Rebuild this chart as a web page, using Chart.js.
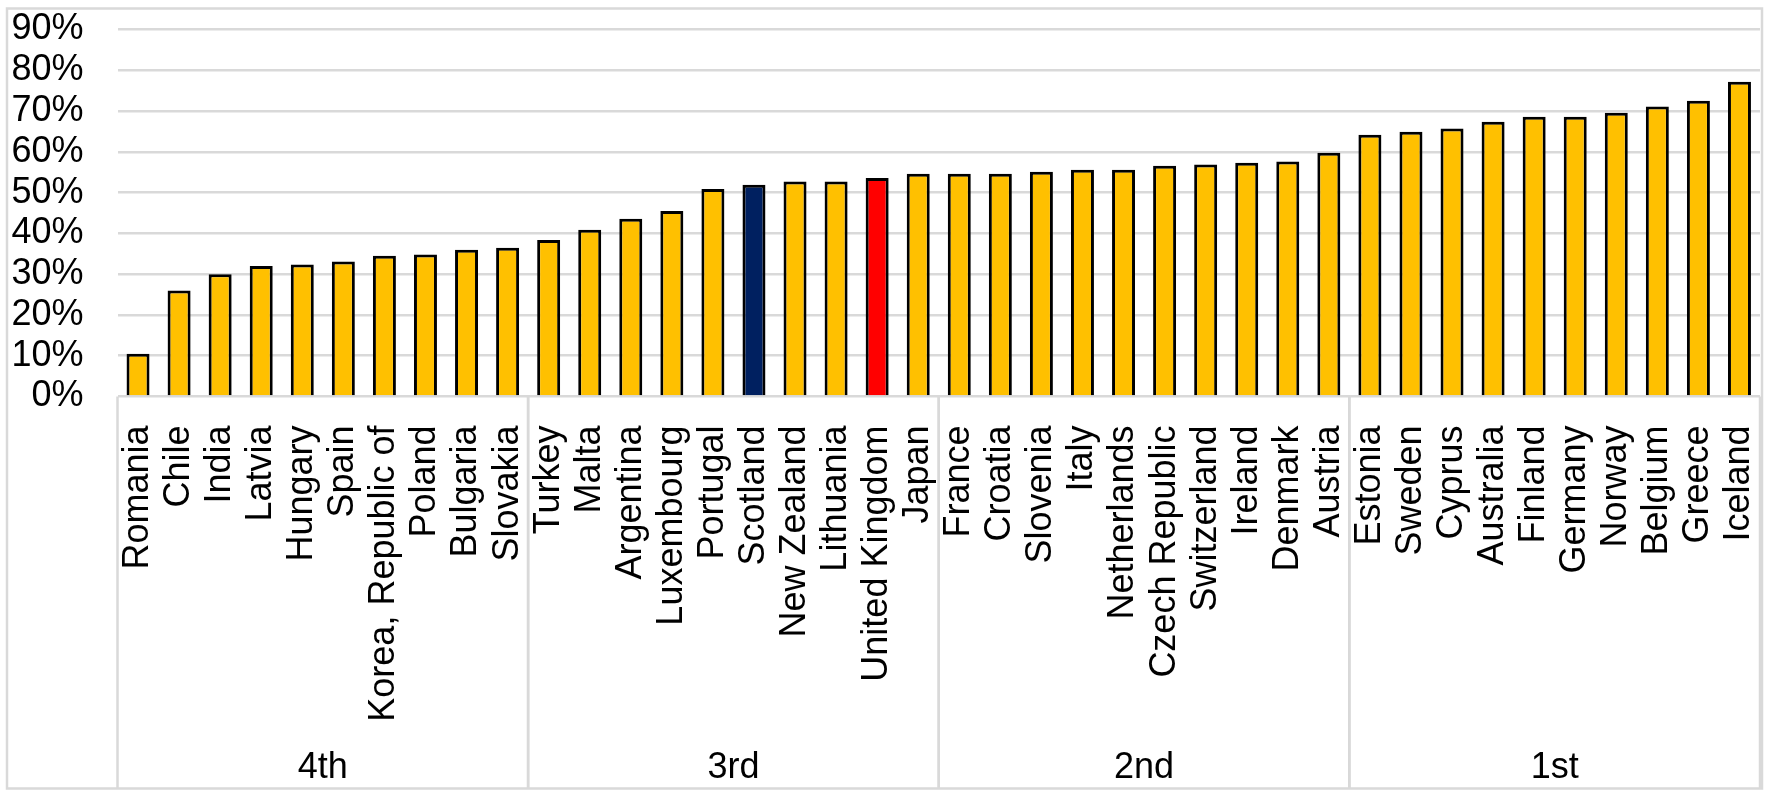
<!DOCTYPE html>
<html>
<head>
<meta charset="utf-8">
<script src="https://cdn.jsdelivr.net/npm/chart.js@4.4.1/dist/chart.umd.min.js"></script>
<style>
  html, body { margin: 0; padding: 0; background: #fff; }
  #wrap { width: 1772px; height: 798px; }
</style>
</head>
<body>
<div id="wrap"><canvas id="chart" width="1772" height="798"></canvas></div>
<script>
// Countries, sorted low to high, in four quartile groups
const countries = [
  'Romania', 'Chile', 'India', 'Latvia', 'Hungary', 'Spain', 'Korea, Republic of', 'Poland', 'Bulgaria', 'Slovakia',
  'Turkey', 'Malta', 'Argentina', 'Luxembourg', 'Portugal', 'Scotland', 'New Zealand', 'Lithuania', 'United Kingdom', 'Japan',
  'France', 'Croatia', 'Slovenia', 'Italy', 'Netherlands', 'Czech Republic', 'Switzerland', 'Ireland', 'Denmark', 'Austria',
  'Estonia', 'Sweden', 'Cyprus', 'Australia', 'Finland', 'Germany', 'Norway', 'Belgium', 'Greece', 'Iceland'
];
// Values in percent
const shares = [
  10.5, 26.0, 30.0, 32.0, 32.4, 33.1, 34.5, 34.8, 36.0, 36.5,
  38.4, 40.9, 43.6, 45.5, 50.9, 51.9, 52.7, 52.7, 53.6, 54.6,
  54.6, 54.6, 55.1, 55.6, 55.6, 56.6, 56.9, 57.3, 57.6, 59.8,
  64.2, 64.9, 65.7, 67.4, 68.6, 68.6, 69.6, 71.1, 72.5, 77.2
];
const groupNames = ['4th', '3rd', '2nd', '1st'];
const groupSizes = [10, 10, 10, 10];
const yMax = 90;
const yStep = 10;

const highlight = { 'Scotland': '#002060', 'United Kingdom': '#FF0000' };
const BAR = '#FFC000';
const GRID = '#D9D9D9';
const FONT = "'Liberation Sans', Arial, sans-serif";

// outer frame + quartile boxes under the x axis
const groupBoxes = {
  id: 'groupBoxes',
  afterDraw(chart) {
    const { ctx, chartArea } = chart;
    const x = chart.scales.x;
    const half = (x.getPixelForValue(1) - x.getPixelForValue(0)) / 2;
    const top = chartArea.bottom;
    const bottom = 788.5;
    ctx.save();
    ctx.strokeStyle = GRID;
    ctx.lineWidth = 2.5;
    ctx.strokeRect(7, 8.5, 1755, 780);
    ctx.fillStyle = '#000';
    ctx.font = '36px ' + FONT;
    ctx.textAlign = 'center';
    ctx.textBaseline = 'middle';
    let start = 0;
    groupSizes.forEach((n, g) => {
      const left = x.getPixelForValue(start) - half;
      const right = x.getPixelForValue(start + n - 1) + half;
      ctx.beginPath();
      ctx.moveTo(left, top);
      ctx.lineTo(left, bottom);
      ctx.moveTo(right, top);
      ctx.lineTo(right, bottom);
      ctx.stroke();
      ctx.fillText(groupNames[g], (left + right) / 2, 768);
      start += n;
    });
    ctx.restore();
  }
};

new Chart(document.getElementById('chart'), {
  type: 'bar',
  data: {
    labels: countries,
    datasets: [{
      data: shares,
      backgroundColor: countries.map(c => highlight[c] || BAR),
      borderColor: '#000',
      borderWidth: 3,
      barPercentage: 0.56,
      categoryPercentage: 1.0
    }]
  },
  options: {
    responsive: false,
    animation: false,
    layout: { padding: { top: 29.5, right: 12, bottom: 0, left: 0 } },
    plugins: { legend: { display: false }, tooltip: { enabled: false } },
    scales: {
      x: {
        grid: { display: false },
        border: { display: false },
        ticks: {
          autoSkip: false,
          minRotation: 90,
          maxRotation: 90,
          padding: 21,
          color: '#000',
          font: { family: FONT, size: 36 }
        },
        afterFit(scale) {
          scale.height = 798 - 396.5;
          scale.paddingLeft = 0;
          scale.paddingRight = 0;
        }
      },
      y: {
        min: 0,
        max: yMax,
        border: { display: false },
        grid: { color: GRID, lineWidth: 2.5, drawTicks: false },
        ticks: {
          stepSize: yStep,
          autoSkip: false,
          padding: 34,
          color: '#000',
          font: { family: FONT, size: 36 },
          callback: v => v + '%'
        },
        afterFit(scale) {
          scale.width = 117.5;
          scale.paddingTop = 0;
          scale.paddingBottom = 0;
        }
      }
    }
  },
  plugins: [groupBoxes]
});
</script>
</body>
</html>
